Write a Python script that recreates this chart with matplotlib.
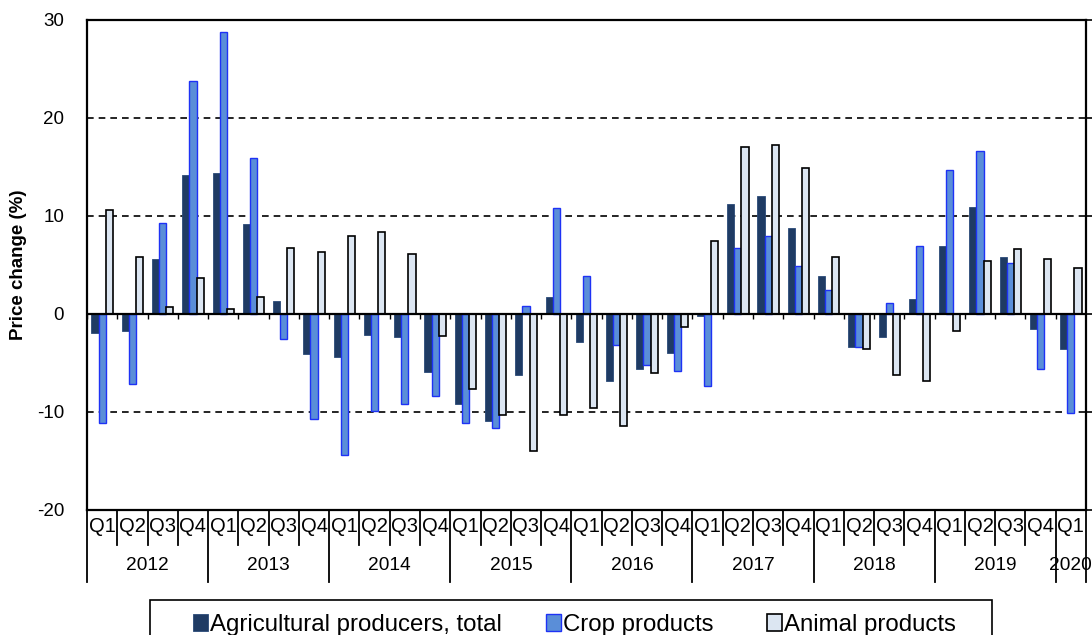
import matplotlib
matplotlib.use("Agg")
import matplotlib.pyplot as plt
from matplotlib.patches import Rectangle
import numpy as np

plt.rcParams['font.family'] = ['Liberation Sans', 'DejaVu Sans']
plt.rcParams['axes.unicode_minus'] = False

years = ["2012", "2013", "2014", "2015", "2016", "2017", "2018", "2019", "2020"]
quarters = ["Q1", "Q2", "Q3", "Q4"] * 8 + ["Q1"]

total = [-1.9, -1.7, 5.6, 14.2, 14.4, 9.2, 1.3, -4.1,
         -4.4, -2.1, -2.3, -5.9, -9.2, -10.9, -6.2, 1.7,
         -2.9, -6.8, -5.6, -4.0, -0.2, 11.2, 12.0, 8.8,
         3.9, -3.4, -2.3, 1.5, 6.9, 10.9, 5.8, -1.5, -3.6]
crop = [-11.1, -7.1, 9.3, 23.8, 28.8, 15.9, -2.6, -10.7,
        -14.4, -9.9, -9.2, -8.4, -11.1, -11.6, 0.8, 10.8,
        3.9, -3.2, -5.2, -5.8, -7.3, 6.7, 8.0, 4.9,
        2.4, -3.4, 1.1, 6.9, 14.7, 16.6, 5.2, -5.6, -10.1]
animal = [10.6, 5.8, 0.7, 3.7, 0.5, 1.7, 6.7, 6.3,
          8.0, 8.4, 6.1, -2.2, -7.7, -10.3, -14.0, -10.3,
          -9.6, -11.4, -6.0, -1.3, 7.5, 17.0, 17.2, 14.9,
          5.8, -3.6, -6.2, -6.8, -1.7, 5.4, 6.6, 5.6, 4.7]
series_names = ["Agricultural producers, total", "Crop products", "Animal products"]

W, H = 1092, 635
fig = plt.figure(figsize=(W / 100, H / 100), dpi=100)
L, R, T, B = 87, 1086, 20, 510
ax = fig.add_axes([L / W, 1 - B / H, (R - L) / W, (B - T) / H])

n = len(total)
x = np.arange(n)
bw = 0.235
c_total = '#1F3B64'
c_crop = '#5A8ED8'
c_animal = '#DCE6F2'

b1 = ax.bar(x - bw, total, bw, color=c_total, edgecolor='#2A4A78', linewidth=0.6, zorder=3)
b2 = ax.bar(x, crop, bw, color=c_crop, edgecolor='#1E32F5', linewidth=1.0, zorder=3)
b3 = ax.bar(x + bw, animal, bw, color=c_animal, edgecolor='black', linewidth=1.2, zorder=3)

ax.set_xlim(-0.5, n - 0.5)
ax.set_ylim(-20, 30)
ax.set_yticks([-20, -10, 0, 10, 20, 30])
ax.set_xticks([])
ax.tick_params(axis='y', which='both', left=True, right=True, direction='out',
               labelsize=13.5, pad=11.5, width=1.2)
ax.yaxis.set_tick_params(which='major', length=5)
for tl in ax.yaxis.get_major_ticks():
    tl.tick1line.set_visible(False)
for y in [10, 20, 30, -10]:
    ax.axhline(y, color='black', linestyle=(0, (4, 3)), linewidth=1.2, zorder=1)
ax.axhline(0, color='black', linewidth=1.6, zorder=4)
# small category ticks on the zero line
ax.vlines(np.arange(n + 1) - 0.5, -0.5, 0, color='black', linewidth=1.0, zorder=2)
for s in ax.spines.values():
    s.set_linewidth(1.6)
    s.set_color('black')

# category table below the plot
tr = ax.get_xaxis_transform()
ah = B - T
q_bot = -(545 - B) / ah
y_bot = -(582 - B) / ah
for k in range(1, n):
    bottom = y_bot if k % 4 == 0 else q_bot
    ax.plot([k - 0.5, k - 0.5], [0, bottom], transform=tr, color='black', lw=1.3, clip_on=False)
for k in [-0.5, n - 0.5]:
    ax.plot([k, k], [0, y_bot], transform=tr, color='black', lw=1.3, clip_on=False)
for i, q in enumerate(quarters):
    ax.text(i, -(527 - B) / ah, q, transform=tr, ha='center', va='center', fontsize=14.5)
for j, yr in enumerate(years):
    start = j * 4
    end = min(start + 3, n - 1)
    ax.text((start + end) / 2, -(566 - B) / ah, yr, transform=tr, ha='center', va='center', fontsize=13.8)

fig.text(19 / W, 1 - 265 / H, "Price change (%)", rotation=90, ha='center', va='center',
         fontsize=13.5, fontweight='bold')

# legend box
fig.patches.append(Rectangle((150 / W, 1 - 670 / H), (992 - 150) / W, (670 - 600) / H,
                             transform=fig.transFigure, fill=False, edgecolor='black', linewidth=1.2))
leg_x = [193, 546, 767]
for h, lab, lx in zip([b1, b2, b3], series_names, leg_x):
    fig.legend([h], [lab], loc='center left', bbox_to_anchor=(lx / W, 1 - 625 / H),
               frameon=False, fontsize=17.3, handlelength=0.62, handleheight=0.72,
               handletextpad=0.1, borderpad=0, borderaxespad=0)

fig.savefig("out.png", dpi=100)
